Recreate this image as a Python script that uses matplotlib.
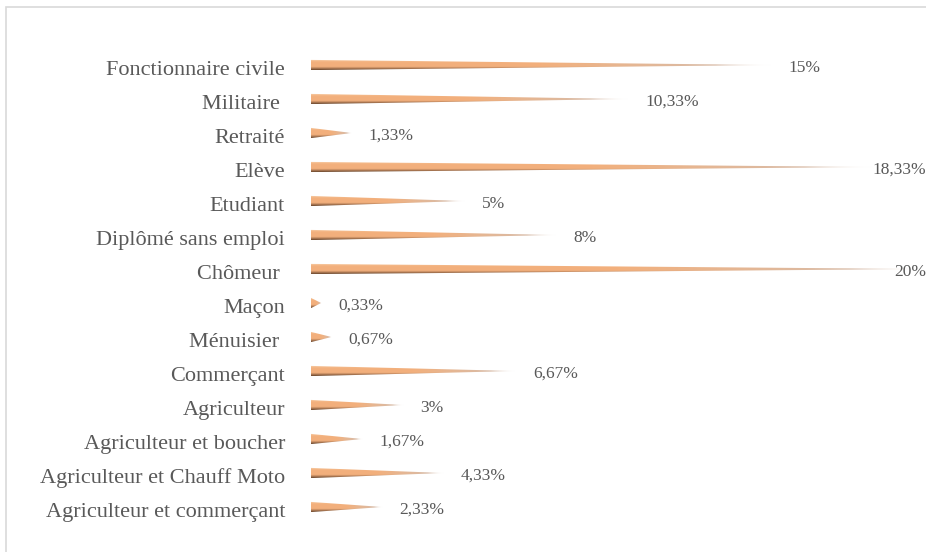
import numpy as np
import matplotlib
matplotlib.use("Agg")
import matplotlib.pyplot as plt
from matplotlib.patches import Polygon, Rectangle

categories = ["Fonctionnaire civile", "Militaire ", "Retraité", "Elève", "Etudiant",
              "Diplômé sans emploi", "Chômeur ", "Maçon", "Ménuisier ", "Commerçant",
              "Agriculteur", "Agriculteur et boucher", "Agriculteur et Chauff Moto",
              "Agriculteur et commerçant"]
values = [15, 10.33, 1.33, 18.33, 5, 8, 20, 0.33, 0.67, 6.67, 3, 1.67, 4.33, 2.33]
value_labels = ["15%", "10,33%", "1,33%", "18,33%", "5%", "8%", "20%", "0,33%", "0,67%",
                "6,67%", "3%", "1,67%", "4,33%", "2,33%"]

W, H = 926, 552
fig = plt.figure(figsize=(W / 100, H / 100), dpi=100)
fig.patch.set_facecolor("white")

x0_px, scale = 311, 30.7
ax = fig.add_axes([x0_px / W, 28 / H, 20 * scale / W, 476 / H])
ax.set_axis_off()

font = "Liberation Serif"
tcol = "#595959"

# gradient image for cones
ny, nx = 40, 200
s = np.linspace(0, 1, ny)[:, None]
u = np.linspace(0, 1, nx)[None, :]
light = np.array([0.98, 0.84, 0.70])
orange = np.array([0.95, 0.69, 0.49])
dark = np.array([0.42, 0.28, 0.18])
gray = np.array([0.80, 0.76, 0.74])
white = np.array([1.0, 1.0, 1.0])


def vprofile(sv):
    sv = sv[..., None]
    c = np.where(sv < 0.25, light + (orange - light) * (sv / 0.25), orange)
    c = np.where(sv > 0.7, orange + (dark - orange) * ((sv - 0.7) / 0.3), c)
    return c


base = vprofile(np.broadcast_to(s, (ny, nx)))
wg = np.clip((u - 0.5) / 0.4, 0, 1)[..., None] * 0.7
img = base * (1 - wg) + gray * wg
ww = np.clip((u - 0.88) / 0.12, 0, 1)[..., None]
img = img * (1 - ww) + white * ww
img = np.clip(img, 0, 1)

h = 0.30
for i, v in enumerate(values):
    poly = Polygon([(0, i - h / 2), (v, i), (0, i + h / 2)], closed=True,
                   facecolor="none", edgecolor="none", transform=ax.transData)
    ax.add_patch(poly)
    im = ax.imshow(img, extent=(0, v, i + h / 2, i - h / 2), aspect="auto",
                   interpolation="bilinear", zorder=2)
    im.set_clip_path(poly)

ax.set_xlim(0, 20)
ax.set_ylim(len(categories) - 0.5, -0.5)

for i, c in enumerate(categories):
    ax.text(-26 / scale, i + 0.15, c, ha="right", va="center", fontsize=16,
            family=font, color=tcol)

fig.canvas.draw()
renderer = fig.canvas.get_renderer()
for i, (v, lab) in enumerate(zip(values, value_labels)):
    t = ax.text(v + 17 / scale, i + 0.08, lab, ha="left", va="center", fontsize=12.5,
                family=font, color=tcol, clip_on=False)
    bb = t.get_window_extent(renderer)
    if bb.x1 > W:
        t.set_x(t.get_position()[0] - (bb.x1 - W) / scale)

fig.add_artist(Rectangle((6 / W, -0.2), 1.2, (545 / H) + 0.2, transform=fig.transFigure,
                         facecolor="none", edgecolor="#d9d9d9", linewidth=1.2))

fig.savefig("out.png", dpi=100)
